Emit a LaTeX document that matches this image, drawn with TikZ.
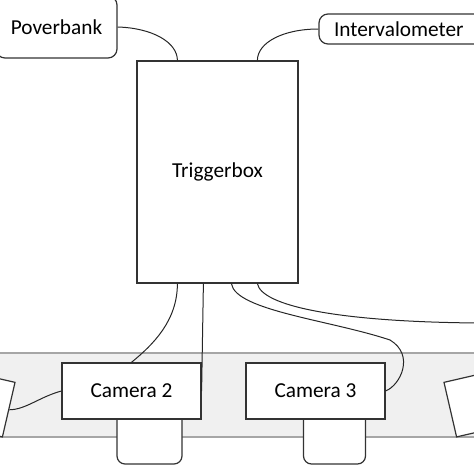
\documentclass[tikz,border=0pt]{standalone}
\usepackage{fontspec}
\setmainfont{Carlito}
\usetikzlibrary{calc,positioning}

\begin{document}
\begin{tikzpicture}[x=1pt,y=-1pt,
    box/.style={rectangle,draw=black!80,fill=white,line width=1.2pt,inner sep=0pt,font=\fontsize{21.3}{25}\selectfont},
    rbox/.style={box,rounded corners=9pt},
    camera/.style={box,minimum width=139pt,minimum height=56pt},
    mount/.style={rectangle,draw=black!80,fill=white,line width=1.2pt,rounded corners=8pt,minimum height=59pt},
    cable/.style={draw=black!85,line width=1pt}
]
\clip (0,0) rectangle (474,474);

% === Bar with the cameras ===
\node[rectangle,fill=gray!12,draw=gray!70,line width=1.6pt,minimum width=500pt,minimum height=84pt] (bar) at (237,395) {};

\node[mount,minimum width=65pt] (mount2) at (149.5,434.5) {};
\node[mount,minimum width=62pt] (mount3) at (334.5,434.5) {};

\node[camera,rotate=-13] (cam1) at (-59,394) {};
\node[camera] (cam2) at (131.5,391) {Camera 2};
\node[camera] (cam3) at (315.5,391) {Camera 3};
\node[camera,rotate=13] (cam4) at (518,394) {};

% === Triggerbox and its supplies ===
\node[box,minimum width=161pt,minimum height=222pt] (trig) at (217.5,172) {Triggerbox};
\node[rbox,minimum width=121pt,minimum height=62pt] (power) at (56.5,27) {Poverbank};
\node[rbox,minimum width=165pt,minimum height=30pt,text width=155pt,align=left] (interval) at (401.5,29) {\hspace*{10pt}Intervalometer};

% === Cables ===
\coordinate (loose) at (480,323);
\draw[cable] (power.east) .. controls +(35,1) and +(0,-18) .. ([xshift=41pt]trig.north west);
\draw[cable] (interval.west) .. controls +(-35,0) and +(0,-18) .. ([xshift=121pt]trig.north west);
\draw[cable] ([xshift=41pt]trig.south west) .. controls +(0,37) and +(22,-18) .. ([xshift=70pt]cam2.north west);
\draw[cable] ([xshift=67pt]trig.south west) -- (cam2.east);
\draw[cable] ([xshift=95pt]trig.south west) .. controls +(4,27) and +(-60,-20) .. (390,340)
    .. controls +(25,15) and +(15,-6) .. (cam3.east);
\draw[cable] ([xshift=121pt]trig.south west) .. controls +(4,22) and +(-144,-1) .. (loose);
\draw[cable] (cam2.west) .. controls +(-22,6) and +(16,0) .. (cam1.east);

\end{tikzpicture}
\end{document}
